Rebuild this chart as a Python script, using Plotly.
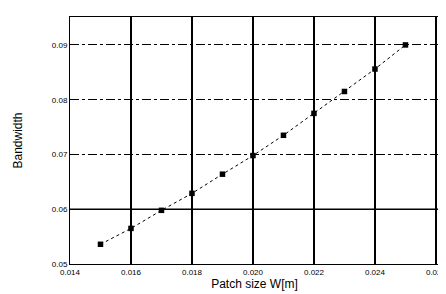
import plotly.graph_objects as go

patch_size = [0.015, 0.016, 0.017, 0.018, 0.019, 0.020, 0.021, 0.022, 0.023, 0.024, 0.025]
bandwidth = [0.0536, 0.0565, 0.0598, 0.0629, 0.0664, 0.0698, 0.0735, 0.0775, 0.0815, 0.0856, 0.0900]
x_ticks = [0.014, 0.016, 0.018, 0.020, 0.022, 0.024, 0.026]
x_tick_labels = ["0.014", "0.016", "0.018", "0.020", "0.022", "0.024", "0.026"]
y_ticks = [0.05, 0.06, 0.07, 0.08, 0.09]
y_tick_labels = ["0.05", "0.06", "0.07", "0.08", "0.09"]

fig = go.Figure()
fig.add_trace(go.Scatter(
    x=patch_size, y=bandwidth, mode="lines+markers",
    line=dict(color="black", width=1, dash="dot"),
    marker=dict(symbol="square", size=5.5, color="black"),
    showlegend=False,
))

fig.update_layout(
    width=446, height=294,
    margin=dict(l=62, r=9, t=8, b=38),
    paper_bgcolor="white", plot_bgcolor="white",
    font=dict(family="Liberation Sans, Arial, sans-serif", color="black"),
    xaxis=dict(
        range=[0.014, 0.0261], tickvals=x_ticks, ticktext=x_tick_labels,
        tickfont=dict(size=8, color="black"), showgrid=True, gridcolor="black", gridwidth=1.5,
        showline=True, linecolor="black", linewidth=1, mirror=True, zeroline=False,
        title=dict(text="Patch size W[m]", font=dict(size=12, color="black"), standoff=4),
        ticks="", ticklen=0,
    ),
    yaxis=dict(
        range=[0.05, 0.0951], tickvals=y_ticks, ticktext=y_tick_labels,
        tickfont=dict(size=8, color="black"), showgrid=True, gridcolor="black", gridwidth=1,
        griddash="dashdot",
        showline=True, linecolor="black", linewidth=1, mirror=True, zeroline=False,
        title=dict(text="Bandwidth", font=dict(size=12, color="black"), standoff=26),
        ticks="",
    ),
    shapes=[dict(type="line", xref="paper", x0=0, x1=1, yref="y", y0=0.06, y1=0.06,
                 line=dict(color="black", width=1.5), layer="below")],
)

fig.write_html("out.html")
